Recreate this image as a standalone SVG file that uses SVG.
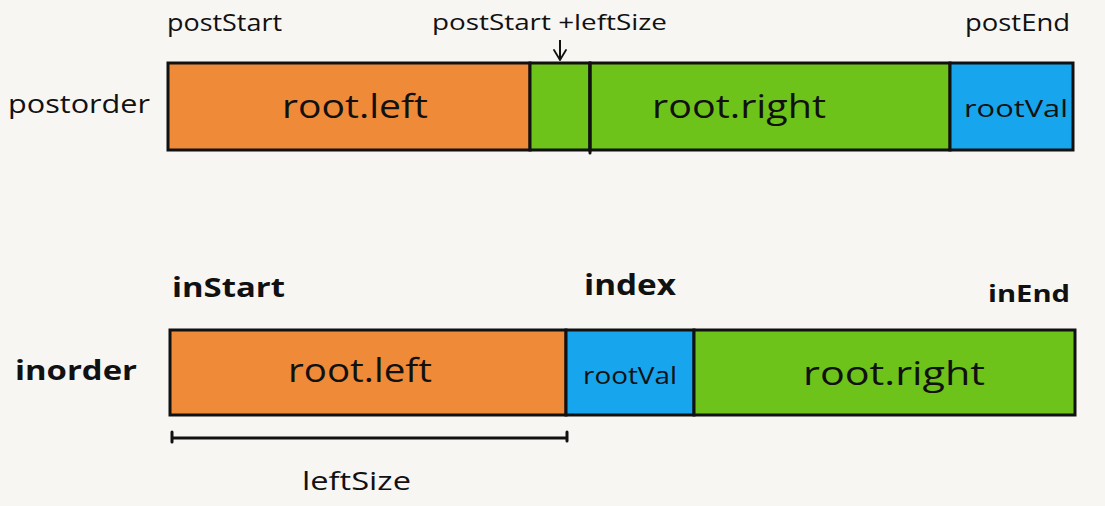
<svg xmlns="http://www.w3.org/2000/svg" width="1105" height="506" viewBox="0 0 1105 506">
<style>
.lbl{font-family:"Open Sans","DejaVu Sans",sans-serif;fill:#111;}
.b{font-weight:bold;}
.cell{stroke:#111;stroke-width:3;}
.org{fill:#EF8A38;}
.grn{fill:#6EC31A;}
.blu{fill:#17A5EE;}
.ln{stroke:#111;stroke-width:3;fill:none;stroke-linecap:round;}
</style>
<defs>
<marker id="v" viewBox="0 0 12 14" refX="11" refY="7" markerWidth="12" markerHeight="14" orient="auto" markerUnits="userSpaceOnUse">
<path d="M1,1 L11,7 L1,13" fill="none" stroke="#111" stroke-width="1.8" stroke-linecap="round"/>
</marker>
</defs>
<rect width="1105" height="506" fill="#F7F6F3"/>
<g id="postorder">
<text class="lbl" x="8" y="113" font-size="26" textLength="142" lengthAdjust="spacingAndGlyphs">postorder</text>
<rect class="cell org" x="168" y="63" width="362" height="87"/>
<rect class="cell grn" x="530" y="63" width="60" height="87"/>
<rect class="cell grn" x="590" y="63" width="360" height="87"/>
<rect class="cell blu" x="950" y="63" width="123" height="87"/>
<line class="ln" x1="590" y1="63" x2="590" y2="153"/>
<text class="lbl" x="282" y="118" font-size="32" textLength="146" lengthAdjust="spacingAndGlyphs">root.left</text>
<text class="lbl" x="652" y="118" font-size="32" textLength="174" lengthAdjust="spacingAndGlyphs">root.right</text>
<text class="lbl" x="964" y="117" font-size="24" textLength="104" lengthAdjust="spacingAndGlyphs">rootVal</text>
</g>
<g id="post-labels">
<text class="lbl" x="167" y="31" font-size="24" textLength="115" lengthAdjust="spacingAndGlyphs">postStart</text>
<text class="lbl" x="432" y="30" font-size="22" textLength="235" lengthAdjust="spacingAndGlyphs">postStart +leftSize</text>
<text class="lbl" x="965" y="31" font-size="24" textLength="105" lengthAdjust="spacingAndGlyphs">postEnd</text>
</g>
<g id="inorder">
<text class="lbl b" x="15" y="380" font-size="26" textLength="122" lengthAdjust="spacingAndGlyphs">inorder</text>
<rect class="cell org" x="170" y="330" width="396" height="85"/>
<rect class="cell blu" x="566" y="330" width="128" height="85"/>
<rect class="cell grn" x="694" y="330" width="381" height="85"/>
<text class="lbl" x="288" y="382" font-size="32" textLength="144" lengthAdjust="spacingAndGlyphs">root.left</text>
<text class="lbl" x="583" y="384" font-size="24" textLength="94" lengthAdjust="spacingAndGlyphs">rootVal</text>
<text class="lbl" x="803" y="385" font-size="32" textLength="182" lengthAdjust="spacingAndGlyphs">root.right</text>
</g>
<g id="in-labels">
<text class="lbl b" x="172" y="297" font-size="26" textLength="113" lengthAdjust="spacingAndGlyphs">inStart</text>
<text class="lbl b" x="584" y="295" font-size="28" textLength="92" lengthAdjust="spacingAndGlyphs">index</text>
<text class="lbl b" x="988" y="302" font-size="24" textLength="82" lengthAdjust="spacingAndGlyphs">inEnd</text>
<text class="lbl" x="302" y="490" font-size="26" textLength="109" lengthAdjust="spacingAndGlyphs">leftSize</text>
</g>
<g id="connectors">
<line x1="560" y1="40" x2="560" y2="60" stroke="#111" stroke-width="2" marker-end="url(#v)"/>
<path class="ln" d="M172,432 V442 M172,438 H567 M567,432 V441"/>
</g>
</svg>
